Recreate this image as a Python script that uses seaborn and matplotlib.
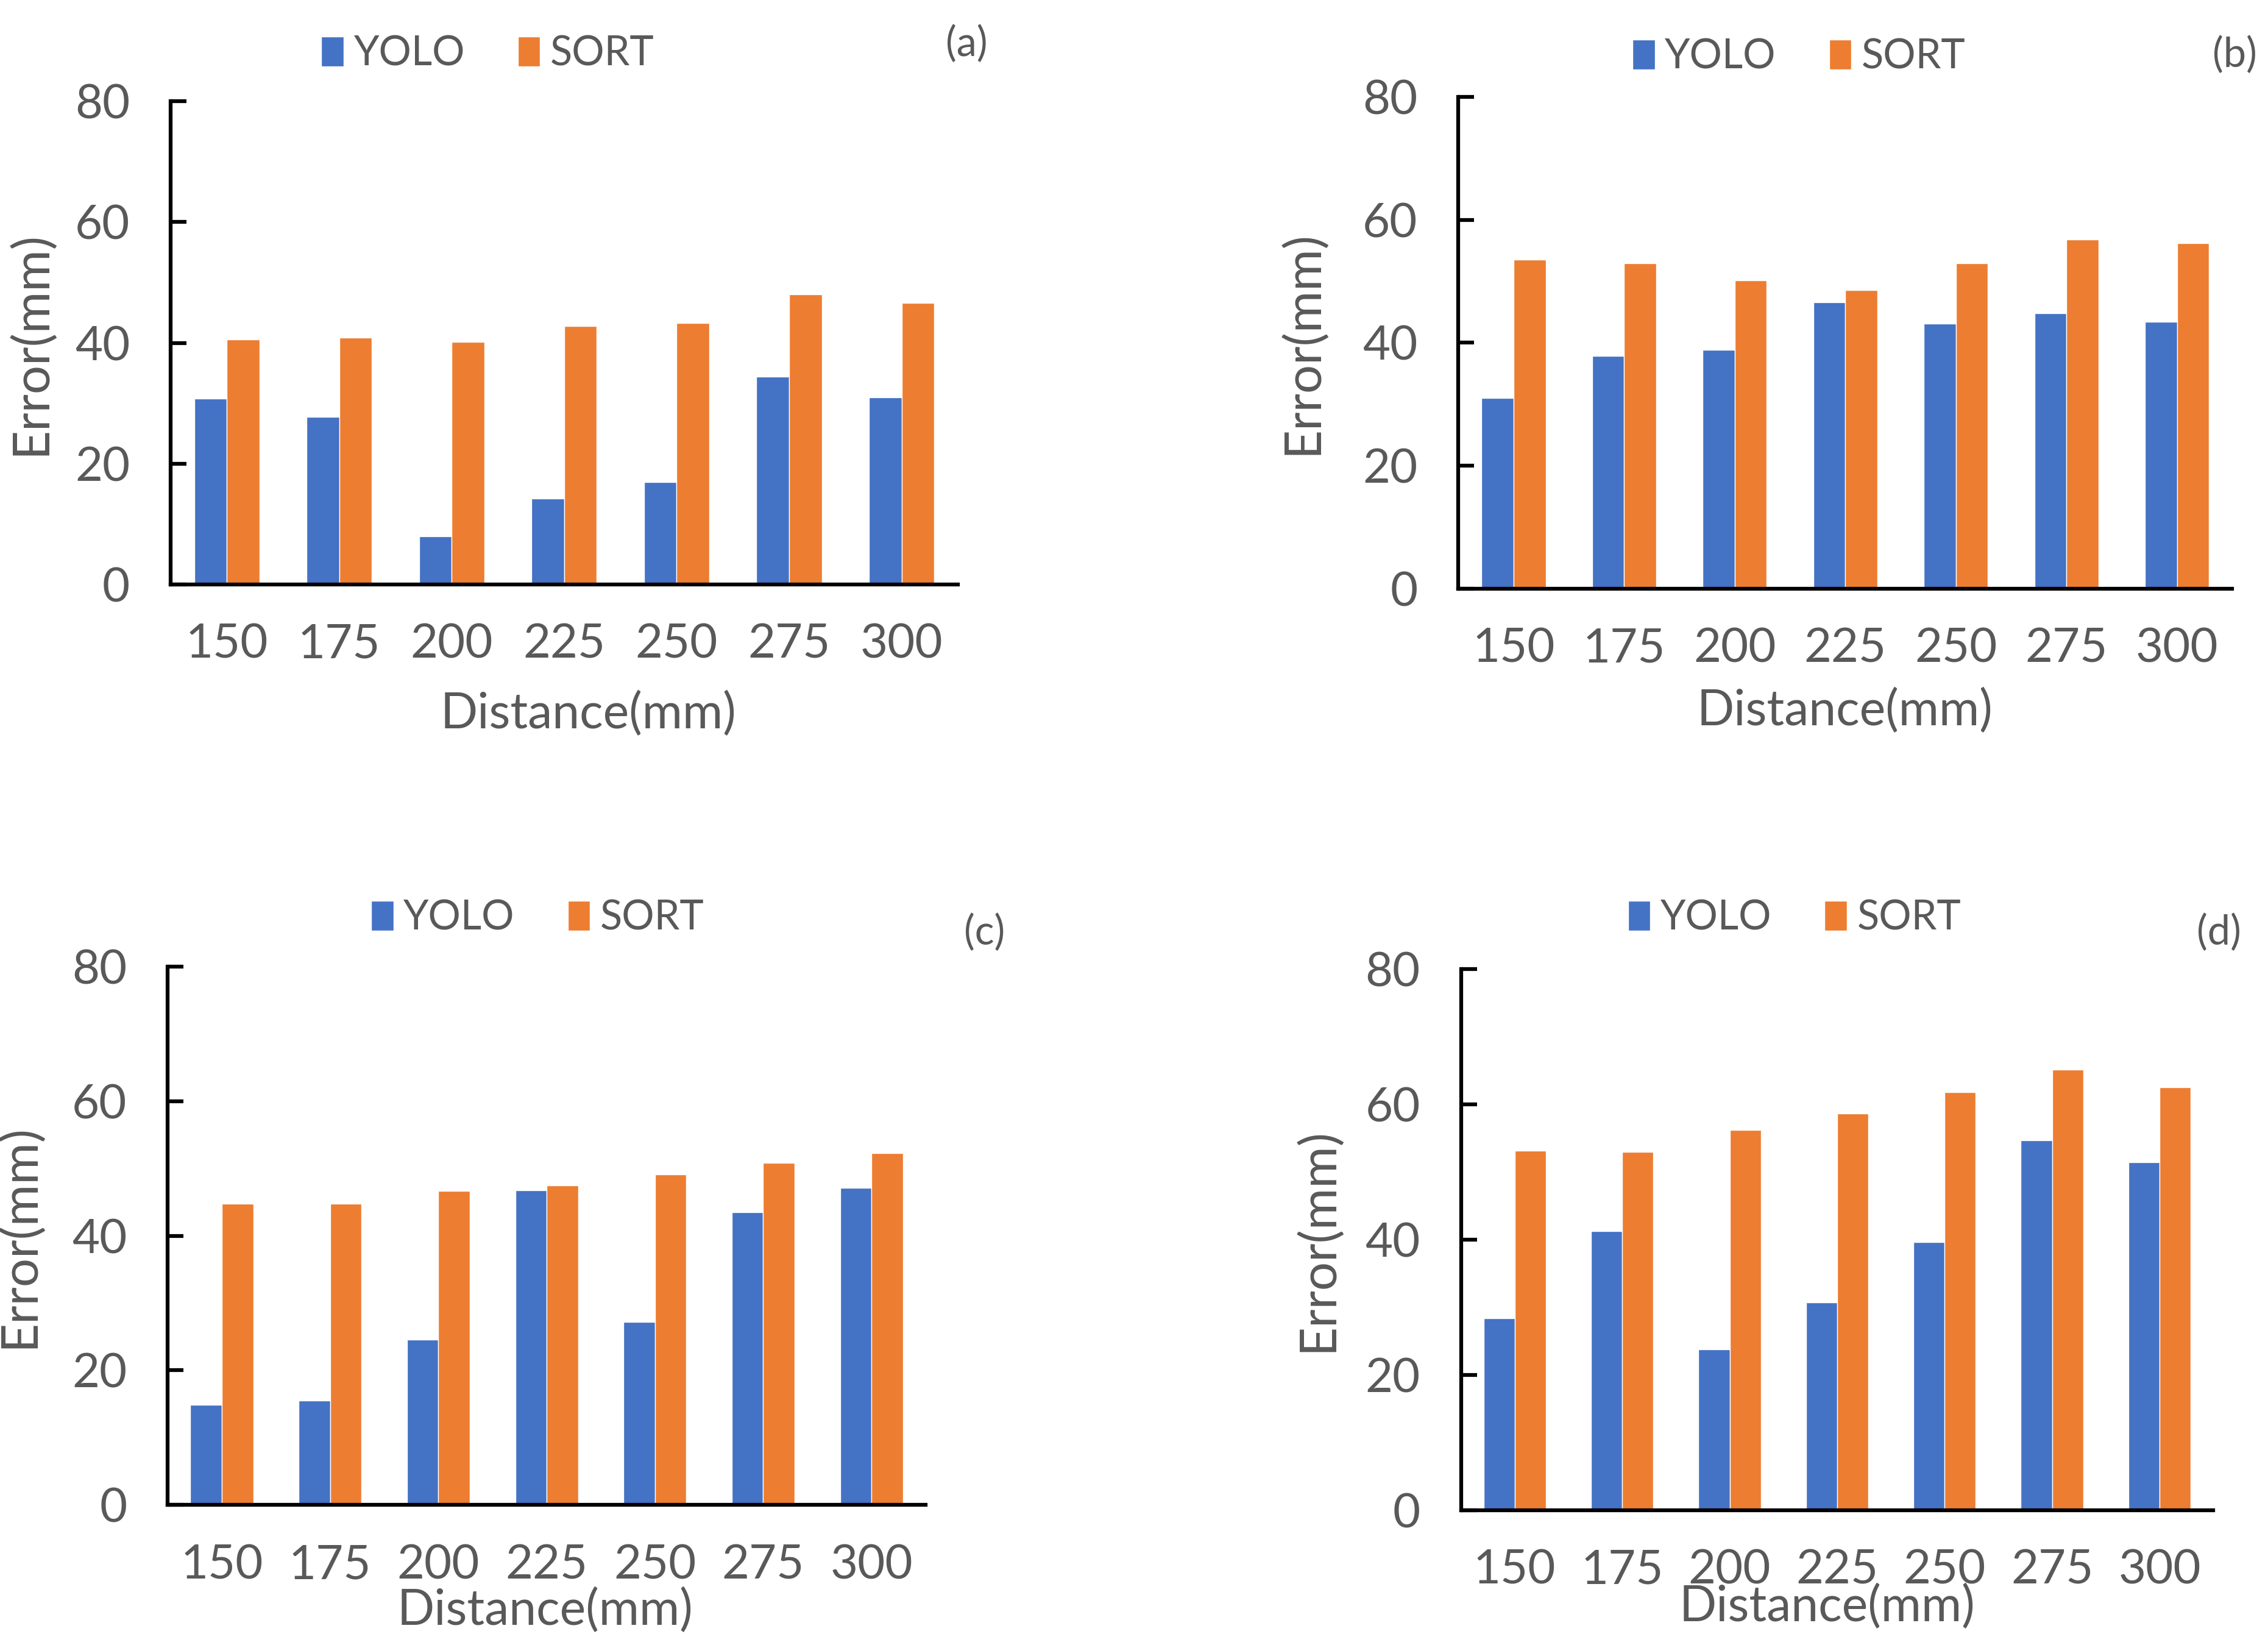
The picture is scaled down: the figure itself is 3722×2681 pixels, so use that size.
import pandas as pd
import matplotlib
matplotlib.use('Agg')
import matplotlib.pyplot as plt
import numpy as np
import seaborn as sns

# values
distances = ['150', '175', '200', '225', '250', '275', '300']
methods = ['YOLO', 'SORT']

yolo_a = [30.8, 27.7, 8.0, 14.2, 17.0, 34.4, 31.0]
sort_a = [40.6, 40.9, 40.2, 42.8, 43.3, 48.0, 46.6]

yolo_b = [31.0, 37.9, 38.9, 46.6, 43.1, 44.8, 43.4]
sort_b = [53.5, 52.9, 50.2, 48.6, 52.9, 56.8, 56.2]

yolo_c = [14.9, 15.5, 24.6, 46.8, 27.2, 43.5, 47.1]
sort_c = [44.8, 44.8, 46.7, 47.5, 49.1, 50.8, 52.3]

yolo_d = [28.4, 41.3, 23.8, 30.7, 39.6, 54.7, 51.4]
sort_d = [53.1, 53.0, 56.2, 58.6, 61.8, 65.1, 62.5]

panel_labels = ['(a)', '(b)', '(c)', '(d)']

sns.set_style('white')
plt.rcParams['font.family'] = ['Lato', 'DejaVu Sans']
text_col = '#595959'
palette = {'YOLO': '#4472C4', 'SORT': '#ED7D31'}

fig = plt.figure(figsize=(37.23, 26.81), dpi=100)

# axes rects (left, bottom, width, height) in figure fraction
rects = [
    [0.0752, 0.6423, 0.3470, 0.2957],
    [0.6428, 0.6397, 0.3412, 0.3010],
    [0.0739, 0.0790, 0.3341, 0.3294],
    [0.6440, 0.0757, 0.3316, 0.3313],
]
legend_pos = [(0.215, 0.967), (0.793, 0.965), (0.237, 0.438), (0.791, 0.438)]
tag_pos = [(0.426, 0.973), (0.985, 0.966), (0.434, 0.429), (0.978, 0.429)]
ylab_x = [-0.147, -0.17, -0.164, -0.158]
xlab_xy = [(0.531, -0.22), (0.499, -0.202), (0.498, -0.153), (0.487, -0.136)]

series = [(yolo_a, sort_a), (yolo_b, sort_b), (yolo_c, sort_c), (yolo_d, sort_d)]

for i, (yolo, sort) in enumerate(series):
    df = pd.DataFrame({
        'Distance': distances * 2,
        'Error': yolo + sort,
        'Method': ['YOLO'] * len(yolo) + ['SORT'] * len(sort),
    })
    ax = fig.add_axes(rects[i])
    sns.barplot(data=df, x='Distance', y='Error', hue='Method', hue_order=methods,
                palette=palette, width=0.58, saturation=1, ax=ax)

    ax.set_ylim(0, 80)
    ax.set_xlim(-0.5, 6.5)
    ax.set_yticks([0, 20, 40, 60, 80])

    # major ticks on category edges, labels on minor ticks
    ax.set_xticks(np.arange(-0.5, 7, 1))
    ax.set_xticklabels([])
    ax.set_xticks(range(len(distances)), distances, minor=True)
    ax.tick_params(axis='x', which='major', direction='out', length=19, width=4.5, color='black')
    ax.tick_params(axis='x', which='minor', length=0, pad=46, labelsize=56, labelcolor=text_col)
    ax.tick_params(axis='y', direction='in', length=19, width=4.5, color='black',
                   pad=48, labelsize=56, labelcolor=text_col, left=True)

    for s in ['top', 'right']:
        ax.spines[s].set_visible(False)
    for s in ['left', 'bottom']:
        ax.spines[s].set_color('black')
        ax.spines[s].set_linewidth(4.5)

    ax.set_xlabel('Distance(mm)', fontsize=58, color=text_col)
    ax.xaxis.set_label_coords(*xlab_xy[i])
    ax.set_ylabel('Error(mm)', fontsize=60, color=text_col)
    ax.yaxis.set_label_coords(ylab_x[i], 0.5)

    handles, labels = ax.get_legend_handles_labels()
    ax.legend(handles, labels, loc='center', bbox_to_anchor=legend_pos[i],
              bbox_transform=fig.transFigure, ncol=2, frameon=False,
              handlelength=0.55, handleheight=0.75, handletextpad=0.25,
              columnspacing=1.3, fontsize=48, labelcolor=text_col)

    fig.text(tag_pos[i][0], tag_pos[i][1], panel_labels[i], fontsize=48,
             color=text_col, ha='center', va='center')

fig.savefig('out.png', dpi=100)
